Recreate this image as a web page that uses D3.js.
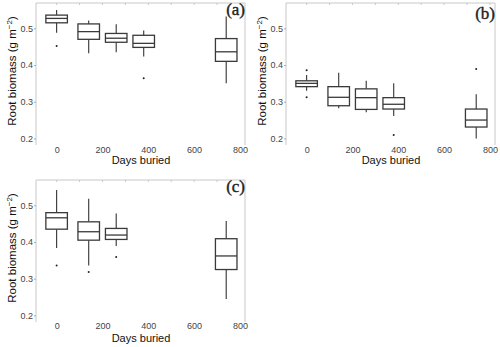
<html>
  <head>
    <script src="https://cdn.jsdelivr.net/npm/d3@7"></script>
    <style>
      * { margin: 0; padding: 0; }
      body { background: white; }
      svg { display: block; }
      .tick text { font-family: "Liberation Sans", Arial, sans-serif; font-size: 9px; fill: #444; }
      .ttl { font-family: "Liberation Sans", Arial, sans-serif; fill: #111; }
      .lab { font-family: "Liberation Serif", "Times New Roman", serif; font-size: 17px; fill: #222; stroke: #222; stroke-width: 0.4px; }
    </style>
  </head>
  <body>
    <script>
      // days buried for each box
      const daysAB = [0, 140, 260, 380, 740];
      const daysC = [0, 140, 260, 740];

      // panel (a)
      const aHigh = [0.550, 0.521, 0.511, 0.494, 0.532];
      const aQ3 = [0.536, 0.512, 0.486, 0.481, 0.472];
      const aMed = [0.527, 0.491, 0.473, 0.459, 0.436];
      const aQ1 = [0.515, 0.470, 0.462, 0.448, 0.410];
      const aLow = [0.488, 0.432, 0.435, 0.423, 0.350];
      const aOut = [[0.452], [], [], [0.364], []];

      // panel (b)
      const bHigh = [0.373, 0.379, 0.357, 0.350, 0.320];
      const bQ3 = [0.357, 0.341, 0.335, 0.311, 0.280];
      const bMed = [0.350, 0.312, 0.311, 0.293, 0.250];
      const bQ1 = [0.341, 0.289, 0.279, 0.280, 0.231];
      const bLow = [0.330, 0.282, 0.271, 0.261, 0.200];
      const bOut = [[0.386, 0.312], [], [], [0.209], [0.389]];

      // panel (c)
      const cHigh = [0.542, 0.518, 0.478, 0.457];
      const cQ3 = [0.480, 0.455, 0.437, 0.409];
      const cMed = [0.466, 0.428, 0.419, 0.362];
      const cQ1 = [0.435, 0.405, 0.407, 0.325];
      const cLow = [0.384, 0.336, 0.389, 0.245];
      const cOut = [[0.336], [0.318], [0.359], []];

      const xTicks = [0, 200, 400, 600, 800];
      const yTicks = [0.2, 0.3, 0.4, 0.5];

      const w = 500, h = 347;
      const pLeft = 36, pRight = 245, pTop = 3, pBottom = 145;
      const boxDays = 94;

      const svg = d3.select("body").append("svg").attr("width", w).attr("height", h);

      const x = d3.scaleLinear().domain([-90, 822]).range([pLeft, pRight]);
      const y = d3.scaleLinear().domain([0.182, 0.569]).range([pBottom, pTop]);

      function build(days, hi, q3, med, q1, lo, out) {
        return days.map((d, i) => ({ day: d, hi: hi[i], q3: q3[i], med: med[i], q1: q1[i], lo: lo[i], out: out[i] }));
      }

      const panels = [
        { label: "(a)", dx: 0, dy: 0, labY: 15, tickY: 8, titleY: 19, data: build(daysAB, aHigh, aQ3, aMed, aQ1, aLow, aOut) },
        { label: "(b)", dx: 250, dy: 0, labY: 19, tickY: 8, titleY: 19, data: build(daysAB, bHigh, bQ3, bMed, bQ1, bLow, bOut) },
        { label: "(c)", dx: 0, dy: 177, labY: 15, tickY: 7, titleY: 20, data: build(daysC, cHigh, cQ3, cMed, cQ1, cLow, cOut) },
      ];

      panels.forEach((p) => {
        const g = svg.append("g").attr("transform", "translate(" + p.dx + "," + p.dy + ")");

        // light frame (top, left, right) with small ticks along the top
        g.append("path")
          .attr("d", "M" + pLeft + "," + pBottom + "V" + pTop + "H" + pRight + "V" + pBottom)
          .attr("fill", "none").attr("stroke", "#c8c8c8").attr("stroke-width", 1);
        g.selectAll(".tt").data(d3.range(0, 801, 100)).enter().append("line")
          .attr("x1", (d) => x(d)).attr("x2", (d) => x(d))
          .attr("y1", pTop).attr("y2", pTop + 2)
          .attr("stroke", "#c8c8c8");

        const yAxis = g.append("g").attr("transform", "translate(" + pLeft + ",0)")
          .call(d3.axisLeft(y).tickValues(yTicks).tickFormat(d3.format(".1f")).tickSize(2).tickPadding(1));
        yAxis.select(".domain").remove();
        yAxis.selectAll("line").attr("stroke", "#aaa");

        const xAxis = g.append("g").attr("transform", "translate(0," + pBottom + ")")
          .call(d3.axisBottom(x).tickValues(xTicks).tickSize(0));
        xAxis.select(".domain").remove();
        xAxis.selectAll("text").attr("y", p.tickY).attr("dy", 0);

        g.append("text").attr("class", "ttl")
          .attr("x", 141).attr("y", pBottom + p.titleY)
          .attr("text-anchor", "middle").style("font-size", "11px")
          .text("Days buried");

        const yt = g.append("text").attr("class", "ttl")
          .attr("transform", "translate(16," + 71 + ") rotate(-90)")
          .attr("text-anchor", "middle").style("font-size", "11.5px");
        yt.append("tspan").text("Root biomass (g m");
        yt.append("tspan").attr("dy", -4).style("font-size", "8px").text("\u22122");
        yt.append("tspan").attr("dy", 4).text(")");

        g.append("text").attr("class", "lab")
          .attr("x", pRight).attr("y", p.labY).attr("text-anchor", "end")
          .text(p.label);

        const bw = x(boxDays) - x(0);
        const box = g.selectAll(".box").data(p.data).enter().append("g");

        box.append("line")
          .attr("x1", (d) => x(d.day)).attr("x2", (d) => x(d.day))
          .attr("y1", (d) => y(d.hi)).attr("y2", (d) => y(d.q3))
          .attr("stroke", "#333").attr("stroke-width", 1.1);
        box.append("line")
          .attr("x1", (d) => x(d.day)).attr("x2", (d) => x(d.day))
          .attr("y1", (d) => y(d.q1)).attr("y2", (d) => y(d.lo))
          .attr("stroke", "#333").attr("stroke-width", 1.1);
        box.append("rect")
          .attr("x", (d) => x(d.day) - bw / 2).attr("width", bw)
          .attr("y", (d) => y(d.q3)).attr("height", (d) => y(d.q1) - y(d.q3))
          .attr("fill", "white").attr("stroke", "#3a3a3a").attr("stroke-width", 1.3);
        box.append("line")
          .attr("x1", (d) => x(d.day) - bw / 2).attr("x2", (d) => x(d.day) + bw / 2)
          .attr("y1", (d) => y(d.med)).attr("y2", (d) => y(d.med))
          .attr("stroke", "#3a3a3a").attr("stroke-width", 1.3);
        box.selectAll(".out").data((d) => d.out.map((v) => ({ day: d.day, v: v }))).enter()
          .append("circle")
          .attr("cx", (d) => x(d.day)).attr("cy", (d) => y(d.v))
          .attr("r", 1).attr("fill", "#222");
      });
    </script>
  </body>
</html>
